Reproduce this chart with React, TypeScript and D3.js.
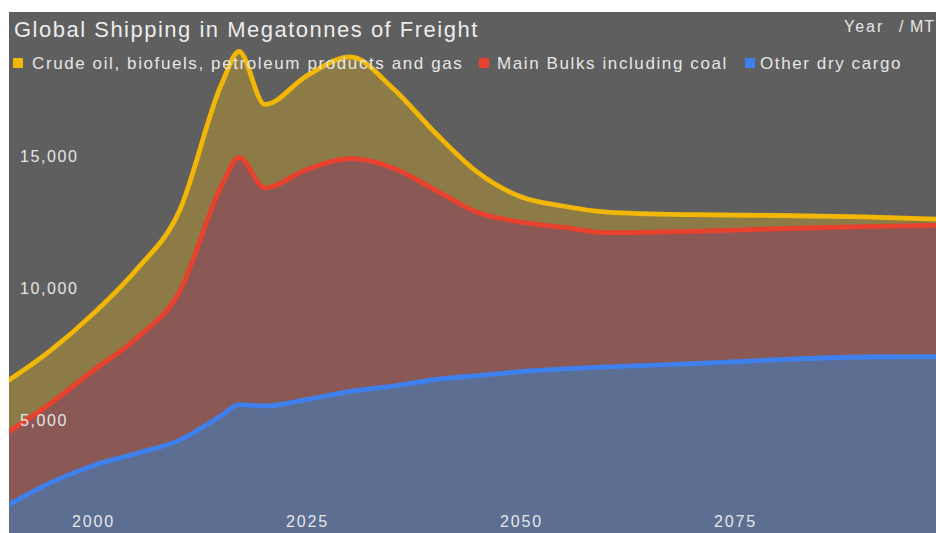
import React from "react";
import * as d3 from "d3";

// Freight volumes by cargo group, megatonnes per year
const years = [1990, 1995, 2000, 2005, 2010, 2015, 2017, 2020, 2025, 2030, 2035, 2040, 2045, 2050, 2055, 2060, 2070, 2080, 2090, 2100];
const otherDryCargo = [1800, 2650, 3300, 3750, 4250, 5200, 5600, 5550, 5800, 6100, 6300, 6550, 6700, 6850, 6950, 7030, 7150, 7300, 7400, 7420];
const mainBulks = [2750, 3000, 3600, 4350, 5600, 8700, 9350, 8250, 8700, 8800, 8250, 7150, 6150, 5650, 5350, 5070, 5000, 4950, 4930, 4970];
const crudeOilGas = [1950, 2000, 2150, 2600, 3050, 3850, 4000, 3150, 3550, 3850, 3000, 2150, 1500, 950, 800, 780, 630, 500, 370, 210];

const seriesKeys = ["dry", "bulks", "crude"];
const seriesNames = ["Crude oil, biofuels, petroleum products and gas", "Main Bulks including coal", "Other dry cargo"];
const lineColors: Record<string, string> = { crude: "#f2b705", bulks: "#e8412e", dry: "#3e80ee" };
const fillColors: Record<string, string> = { crude: "#8c7b47", bulks: "#8a5955", dry: "#5c6e91" };
const legendKeys = ["crude", "bulks", "dry"];

const xTicks = [2000, 2025, 2050, 2075];
const yTicks = [5000, 10000, 15000];

const W = 936;
const H = 533;
const panel = { x: 9, y: 12, w: W - 9, h: H - 12 };

export default function App() {
  const rows = years.map((year, i) => ({
    year,
    dry: otherDryCargo[i],
    bulks: mainBulks[i],
    crude: crudeOilGas[i],
  }));

  const stacked = d3.stack<any>().keys(seriesKeys)(rows);

  const x = d3.scaleLinear().domain([1990, 2100]).range([7.9, 949.5]);
  const y = d3.scaleLinear().domain([0, 15000]).range([552.75, 156]);

  const area = d3
    .area<any>()
    .x((d) => x(d.data.year))
    .y0((d) => y(d[0]))
    .y1((d) => y(d[1]))
    .curve(d3.curveMonotoneX);

  const line = d3
    .line<any>()
    .x((d) => x(d.data.year))
    .y((d) => y(d[1]))
    .curve(d3.curveMonotoneX);

  const fmt = d3.format(",");
  const font = "'Liberation Sans', Arial, Helvetica, sans-serif";
  const legendMarkX = [13, 479, 745];
  const legendTextX = [32, 497, 760];

  return (
    <svg
      width={W}
      height={H}
      style={{ position: "fixed", left: 0, top: 0, display: "block" }}
      fontFamily={font}
    >
      <rect x={0} y={0} width={W} height={H} fill="#ffffff" />
      <defs>
        <clipPath id="panel-clip">
          <rect x={panel.x} y={panel.y} width={panel.w} height={panel.h} />
        </clipPath>
      </defs>
      <rect x={panel.x} y={panel.y} width={panel.w} height={panel.h} fill="#5f5f5f" />
      <g clipPath="url(#panel-clip)">
        {stacked.map((s) => (
          <path key={"a-" + s.key} d={area(s) || ""} fill={fillColors[s.key]} />
        ))}
        {stacked.map((s) => (
          <path
            key={"l-" + s.key}
            d={line(s) || ""}
            fill="none"
            stroke={lineColors[s.key]}
            strokeWidth={4.8}
            strokeLinejoin="round"
          />
        ))}
      </g>

      {yTicks.map((t) => (
        <text key={"y" + t} x={20} y={y(t)} dy="0.35em" fontSize={16} letterSpacing={1.6} fill="#e6e6e6">
          {fmt(t)}
        </text>
      ))}
      {xTicks.map((t) => (
        <text key={"x" + t} x={x(t)} y={521} dy="0.35em" textAnchor="middle" fontSize={16} letterSpacing={1.8} fill="#e6e6e6">
          {t}
        </text>
      ))}

      <text x={14} y={37} fontSize={22} letterSpacing={1.5} fill="#ececec">
        Global Shipping in Megatonnes of Freight
      </text>
      <text x={844} y={32} fontSize={16} letterSpacing={2} fill="#e6e6e6">
        Year
      </text>
      <text x={899} y={32} fontSize={16} letterSpacing={1} fill="#e6e6e6">
        / MT
      </text>

      {legendKeys.map((k, i) => (
        <g key={"lg" + k}>
          <rect x={legendMarkX[i]} y={58} width={10} height={10} fill={lineColors[k]} />
          <text x={legendTextX[i]} y={69} fontSize={17} letterSpacing={1.6} fill="#e6e6e6">
            {seriesNames[i]}
          </text>
        </g>
      ))}
    </svg>
  );
}
